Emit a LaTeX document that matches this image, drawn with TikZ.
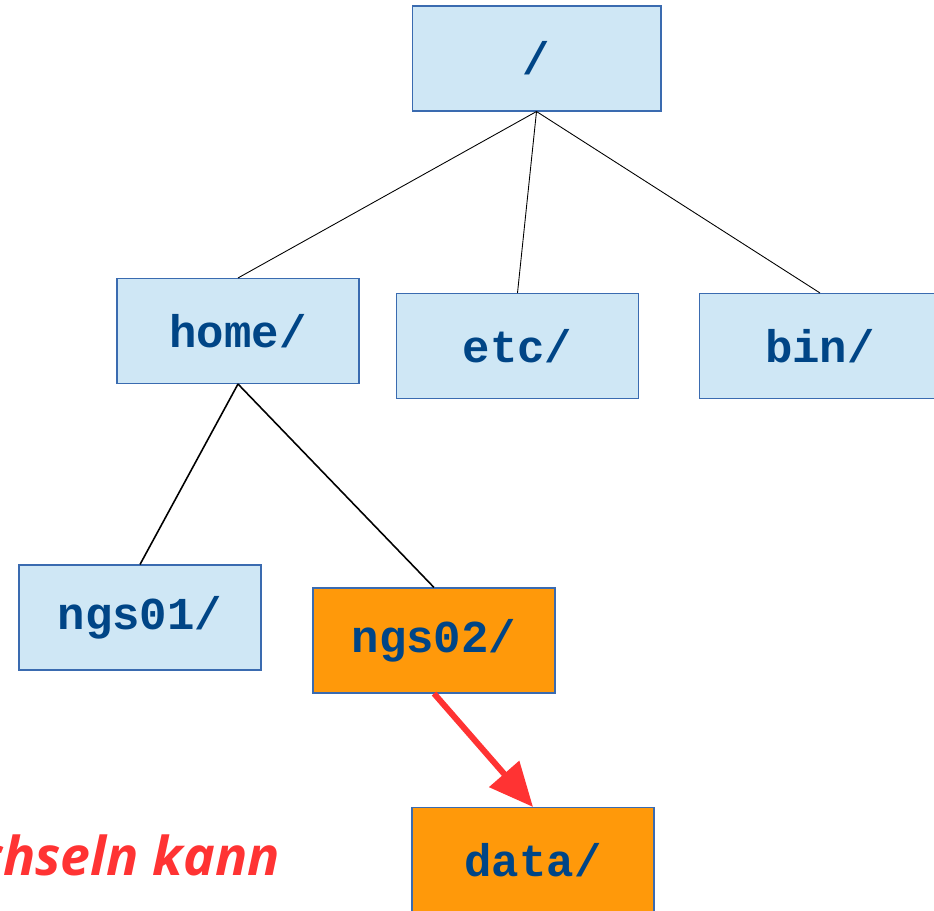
\documentclass[tikz,border=0pt]{standalone}
\usepackage{fontspec}
\setmonofont{Liberation Mono}
\newfontfamily\notefont{Open Sans}
\usetikzlibrary{arrows.meta,positioning}

\definecolor{dirfill}{HTML}{CFE7F5}
\definecolor{dirline}{HTML}{3A6BB0}
\definecolor{dirtext}{HTML}{004586}
\definecolor{curfill}{HTML}{FF990A}
\definecolor{notered}{HTML}{FF3333}

\begin{document}
\begin{tikzpicture}[
    x=0.02cm, y=-0.02cm,
    dir/.style={rectangle, draw=dirline, line width=0.6pt, fill=dirfill, inner sep=0pt,
        minimum width=4.84cm, minimum height=2.1cm, text=dirtext,
        font=\fontsize{26}{30}\selectfont\ttfamily\bfseries},
    cur/.style={dir, fill=curfill},
    branch/.style={draw=black, line width=0.5pt},
    move/.style={draw=notered, line width=3.4pt,
        -{Triangle[length=25pt, width=22pt]}}
]
\useasboundingbox (0,0) rectangle (934,911);

% Wurzel und erste Ebene
\node[dir, minimum width=4.98cm] (root) at (536.5,58.5) {/};
\node[dir] (home) at (238,331) {home/};
\node[dir] (etc)  at (517.5,346) {etc/};
\node[dir] (bin)  at (820,346) {bin/};

% Unterverzeichnisse von home
\node[dir] (ngs01) at (140,617.5) {ngs01/};
\node[cur] (ngs02) at (434,640.5) {ngs02/};
\node[cur] (data)  at (533,860) {data/};

% Verbindungen
\draw[branch] (root.south) -- (home.north);
\draw[branch] (root.south) -- (etc.north);
\draw[branch] (root.south) -- (bin.north);
\draw[branch, line width=0.9pt] (home.south) -- (ngs01.north);
\draw[branch, line width=0.9pt] (home.south) -- (ngs02.north);
\draw[move] (ngs02.south) -- (data.north);

% Hinweis
\node[anchor=base west, inner sep=0pt, text=notered,
    font=\fontsize{30.5}{36}\selectfont\notefont\bfseries\itshape] (hint) at (-23,876) {chseln kann};

\end{tikzpicture}
\end{document}
